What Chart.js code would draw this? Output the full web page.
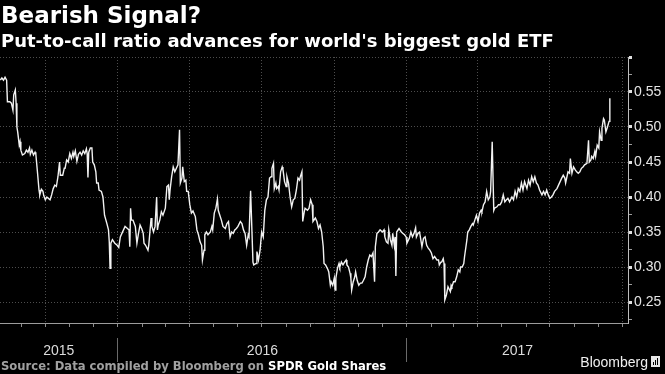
<!DOCTYPE html>
<html>
<head>
<meta charset="utf-8">
<script src="https://cdn.jsdelivr.net/npm/chart.js@4.4.1/dist/chart.umd.min.js"></script>
<style>
  html, body { margin: 0; padding: 0; background: #000; }
  #chart { display: block; }
</style>
</head>
<body>
<canvas id="chart" width="665" height="374"></canvas>
<script>
// x values are days counted from 1 Jan 2015
const days = [
  216,218,220,222,224,225,228,230,232,233,
  235,236,237,238,240,241,242,244,247,249,
  251,253,254,256,258,260,261,263,265,266,
  268,270,271,273,275,277,279,281,283,285,
  287,289,291,292,295,297,298,300,302,304,
  306,308,309,311,313,315,317,319,321,323,
  325,326,327,328,330,332,333,335,337,338,
  340,341,344,346,348,351,353,354,355,356,
  358,361,364,366,368,370,374,377,379,380,
  381,382,384,387,389,391,393,395,397,398,
  400,403,404,407,408,410,412,414,415,416,
  418,420,422,425,427,429,430,431,433,435,
  437,439,441,443,444,446,447,449,451,452,
  454,456,458,460,463,465,467,469,471,472,
  474,475,477,479,482,484,485,487,489,491,
  492,494,496,498,501,503,505,507,509,511,
  513,515,517,520,522,524,526,528,530,531,
  533,536,537,540,541,543,545,547,549,551,
  553,555,557,559,560,562,563,565,566,568,
  569,571,573,574,576,578,579,581,583,585,
  587,589,591,593,595,596,598,599,601,602,
  605,607,609,611,612,615,617,619,621,623,
  625,626,628,631,632,634,635,637,639,640,
  641,643,645,646,648,650,652,654,655,657,
  659,660,661,663,665,666,668,670,672,674,
  676,678,680,682,684,686,688,690,691,693,
  695,697,700,702,703,705,707,708,710,712,
  713,715,716,717,718,721,724,726,728,730,
  731,734,736,738,740,742,743,745,747,750,
  752,754,756,758,760,762,764,766,769,771,
  772,774,775,777,778,779,781,783,786,787,
  788,790,792,794,796,798,799,801,803,804,
  807,808,810,812,814,815,817,819,821,823,
  825,826,828,830,832,834,836,837,839,841,
  842,845,847,849,851,853,855,857,859,861,
  864,866,868,870,872,874,876,878,880,883,
  885,887,889,891,893,895,897,899,902,904,
  906,908,910,912,914,916,918,921,923,925,
  927,929,931,932,935,937,938,940,942,944,
  946,948,950,952,954,956,959,961,962,964,
  965,967,969,970,972,974,975,977,978,980,
  981,983,985,987,988
];

// put-to-call ratio
const ratio = [
  .567,.570,.567,.571,.567,.536,.536,.534,.524,.546,
  .553,.534,.500,.493,.474,.479,.467,.460,.462,.467,
  .464,.470,.461,.467,.460,.464,.461,.436,.410,.403,
  .411,.408,.402,.396,.400,.398,.396,.403,.412,.417,
  .415,.429,.450,.431,.431,.441,.441,.453,.450,.462,
  .455,.464,.458,.466,.451,.461,.464,.460,.466,.462,
  .469,.462,.428,.464,.470,.470,.450,.446,.436,.420,
  .420,.410,.408,.400,.374,.362,.353,.336,.298,.334,
  .339,.334,.331,.328,.343,.348,.358,.355,.353,.329,
  .384,.367,.367,.358,.334,.348,.360,.355,.348,.334,
  .331,.324,.331,.370,.358,.350,.358,.400,.353,.360,
  .367,.379,.374,.384,.415,.417,.396,.410,.429,.443,
  .436,.441,.446,.496,.420,.427,.443,.422,.424,.408,
  .408,.389,.377,.380,.372,.353,.346,.336,.331,.310,
  .324,.346,.350,.346,.350,.358,.353,.377,.384,.397,
  .381,.374,.367,.358,.355,.362,.365,.343,.350,.348,
  .353,.355,.358,.365,.362,.353,.348,.331,.346,.343,
  .409,.307,.303,.305,.322,.310,.324,.350,.343,.381,
  .396,.400,.427,.429,.441,.448,.412,.420,.412,.415,
  .410,.436,.443,.439,.422,.415,.429,.420,.400,.386,
  .396,.398,.410,.427,.424,.429,.436,.365,.379,.384,
  .381,.384,.396,.389,.365,.370,.365,.355,.360,.350,
  .329,.305,.303,.296,.293,.274,.279,.274,.284,.267,
  .284,.298,.305,.300,.307,.303,.307,.310,.303,.300,
  .291,.284,.267,.279,.286,.293,.281,.274,.277,.277,
  .281,.286,.300,.310,.317,.315,.320,.279,.329,.348,
  .350,.353,.350,.353,.343,.336,.334,.353,.339,.331,
  .348,.331,.343,.287,.350,.355,.350,.348,.346,.343,
  .334,.341,.350,.343,.348,.356,.343,.348,.350,.329,
  .341,.343,.331,.327,.324,.320,.312,.315,.310,.310,
  .303,.307,.307,.312,.305,.253,.260,.272,.265,.274,
  .272,.279,.279,.286,.296,.293,.300,.300,.305,.315,
  .339,.350,.353,.358,.362,.360,.367,.374,.365,.377,
  .381,.379,.389,.393,.408,.396,.400,.408,.479,.381,
  .384,.386,.389,.389,.393,.403,.393,.396,.398,.393,
  .400,.396,.408,.400,.412,.408,.420,.410,.422,.412,
  .424,.417,.429,.422,.429,.420,.417,.410,.403,.408,
  .403,.410,.403,.398,.400,.403,.408,.412,.417,.422,
  .427,.431,.427,.420,.436,.434,.455,.434,.443,.439,
  .436,.434,.436,.441,.443,.446,.448,.481,.450,.453,
  .458,.455,.465,.458,.474,.470,.493,.481,.498,.512,
  .510,.493,.500,.508,.541
];

// axis structure (days from 1 Jan 2015)
const xStartDay = 215.6;
const xEndDay = 1011;
const monthStarts = [243, 273, 304, 334, 365, 396, 425, 456, 486, 517, 547, 578, 609, 639, 670, 700,
                     731, 762, 790, 821, 851, 882, 912, 943, 974, 1004];
const quarterStarts = [273, 365, 456, 547, 639, 731, 821, 912, 1004];
const yearLabels = ['2015', '2016', '2017'];
const yearCenters = [290, 548, 871];
const yearBreaks = [365, 731];

const yMin = 0.22;
const yMax = 0.60;
const yTicks = [0.225, 0.25, 0.275, 0.30, 0.325, 0.35, 0.375, 0.40, 0.425, 0.45, 0.475, 0.50, 0.525, 0.55, 0.575, 0.60];
const yMajor = [0.25, 0.30, 0.35, 0.40, 0.45, 0.50, 0.55, 0.60];
const yLabelled = [0.25, 0.30, 0.35, 0.40, 0.45, 0.50, 0.55];

const near = (list, v) => list.some(t => Math.abs(t - v) < 1e-6);
const tickVal = c => (c.tick ? c.tick.value : NaN);

// Header, footer and background
const frame = {
    id: 'frame',
    beforeDraw(chart) {
        const ctx = chart.ctx;
        ctx.save();
        ctx.fillStyle = '#000';
        ctx.fillRect(0, 0, chart.width, chart.height);
        ctx.restore();
    },
    afterDraw(chart) {
        const ctx = chart.ctx;
        ctx.save();
        ctx.textBaseline = 'alphabetic';
        ctx.fillStyle = '#fff';
        ctx.font = 'bold 23px "DejaVu Sans"';
        ctx.fillText('Bearish Signal?', 1, 23);
        ctx.font = 'bold 18px "DejaVu Sans"';
        ctx.fillText("Put-to-call ratio advances for world's biggest gold ETF", 1, 47);

        ctx.font = 'bold 11.6px "DejaVu Sans"';
        const src = 'Source: Data compiled by Bloomberg on ';
        ctx.fillStyle = '#a0a0a0';
        ctx.fillText(src, 1, 370);
        ctx.fillStyle = '#fff';
        ctx.fillText('SPDR Gold Shares', 1 + ctx.measureText(src).width, 370);

        ctx.font = '14px "Liberation Sans"';
        ctx.textAlign = 'right';
        ctx.fillStyle = '#f0f0f0';
        ctx.fillText('Bloomberg', 648, 367);
        // small terminal logo
        ctx.fillStyle = '#e8e8e8';
        ctx.fillRect(651, 356, 9, 11);
        ctx.fillStyle = '#000';
        ctx.fillRect(653, 362, 1, 3);
        ctx.fillRect(655, 360, 1, 5);
        ctx.fillRect(657, 358, 1, 7);
        ctx.restore();
    }
};

new Chart(document.getElementById('chart'), {
    type: 'line',
    data: {
        datasets: [{
            data: days.map((d, i) => ({ x: d, y: ratio[i] })),
            xAxisID: 'x',
            yAxisID: 'y',
            borderColor: '#f2f2f2',
            borderWidth: 1.4,
            pointRadius: 0,
            tension: 0,
            fill: false
        }]
    },
    options: {
        responsive: false,
        animation: false,
        devicePixelRatio: 1,
        events: [],
        layout: { padding: { top: 57, left: 0, right: 0, bottom: 0 } },
        plugins: {
            legend: { display: false },
            tooltip: { enabled: false }
        },
        scales: {
            x: {
                type: 'linear',
                position: 'bottom',
                weight: 0,
                min: xStartDay,
                max: xEndDay,
                afterBuildTicks: s => { s.ticks = monthStarts.map(v => ({ value: v })); },
                afterFit: s => { s.height = 15; },
                ticks: { display: false },
                grid: {
                    color: c => near(quarterStarts, tickVal(c)) ? '#4d4d4d' : 'rgba(0,0,0,0)',
                    tickColor: '#8c8c8c',
                    tickLength: 4,
                    lineWidth: 1
                },
                border: { display: true, color: '#9c9c9c', width: 1, dash: [1, 2] }
            },
            years: {
                type: 'linear',
                position: 'bottom',
                weight: 1,
                min: xStartDay,
                max: xEndDay,
                afterBuildTicks: s => {
                    s.ticks = yearCenters.concat(yearBreaks).sort((a, b) => a - b).map(v => ({ value: v }));
                },
                afterFit: s => { s.height = 36; },
                ticks: {
                    autoSkip: false,
                    maxRotation: 0,
                    color: '#dcdcdc',
                    font: { family: 'Liberation Sans', size: 14 },
                    padding: -19,
                    callback: v => {
                        const i = yearCenters.indexOf(v);
                        return i >= 0 ? yearLabels[i] : '';
                    }
                },
                grid: {
                    drawOnChartArea: false,
                    tickLength: 24,
                    color: 'rgba(0,0,0,0)',
                    tickColor: c => near(yearBreaks, tickVal(c)) ? '#6a6a6a' : 'rgba(0,0,0,0)'
                },
                border: { display: false }
            },
            y: {
                type: 'linear',
                position: 'right',
                min: yMin,
                max: yMax,
                afterBuildTicks: s => { s.ticks = yTicks.map(v => ({ value: v })); },
                afterFit: s => { s.width = 37; },
                ticks: {
                    autoSkip: false,
                    color: '#e4e4e4',
                    font: { family: 'Liberation Sans', size: 14 },
                    padding: 2,
                    callback: v => near(yLabelled, v) ? v.toFixed(2) : ''
                },
                grid: {
                    color: c => near(yMajor, tickVal(c)) ? '#4d4d4d' : 'rgba(0,0,0,0)',
                    tickColor: c => near(yMajor, tickVal(c)) ? '#e0e0e0' : '#9c9c9c',
                    tickWidth: c => near(yMajor, tickVal(c)) ? 3 : 1,
                    tickLength: 4
                },
                border: { display: true, color: '#bdbdbd', width: 1, dash: [1, 2] }
            }
        }
    },
    plugins: [frame]
});
</script>
</body>
</html>
